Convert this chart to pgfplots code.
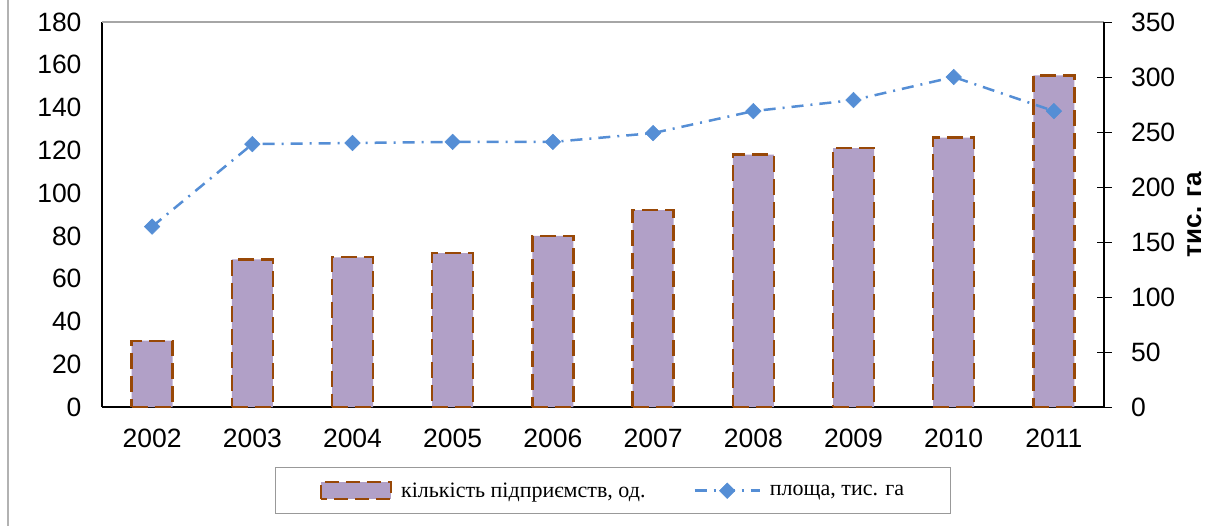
\documentclass[border=0pt]{standalone}
\usepackage{fontspec}
\setmainfont{Liberation Sans}
\newfontfamily\tnr{Liberation Serif}
\usepackage{pgfplots}
\usepackage{pgfplotstable}
\pgfplotsset{compat=1.18}
\definecolor{barfill}{RGB}{177,160,199}
\definecolor{baredge}{RGB}{152,72,7}
\definecolor{linecol}{RGB}{85,142,213}
\pgfplotsset{lineleg/.style={legend image code/.code={\draw[mark repeat=2,mark phase=2,##1] plot coordinates {(0bp,0bp) (32.5bp,0bp) (65bp,0bp)};}}}

\pgfplotstableread{
x n area
0 31 164
1 69 239
2 70 240
3 72 241
4 80 241
5 92 249
6 118 269
7 121 279
8 126 300
9 155 269
}\data

\begin{document}
\begin{tikzpicture}
\begin{axis}[
 width=1002bp, height=385bp, scale only axis,
 xmin=-0.5, xmax=9.5, ymin=0, ymax=180,
 axis x line*=bottom, axis y line*=left,
 axis line style={black, line width=1.2bp},
 xtick={0,1,2,3,4,5,6,7,8,9},
 xticklabels={2002,2003,2004,2005,2006,2007,2008,2009,2010,2011},
 ytick={0,20,...,180},
 major tick length=0pt,
 tick style={draw=none},
 tick label style={font=\fontsize{26.5bp}{31bp}\selectfont},
 /pgf/number format/assume math mode=true,
 yticklabel style={xshift=-17bp},
 xticklabel style={yshift=-18bp},
]
\addplot[ybar, bar width=41bp, bar shift=0pt, fill=barfill, draw=baredge, line width=2.3bp, dash pattern=on 16bp off 7bp] table[x=x,y=n]{\data};
\path (rel axis cs:0,0) coordinate (SW) (rel axis cs:1,1) coordinate (NE);
\end{axis}
\begin{axis}[
 width=1002bp, height=385bp, scale only axis,
 xmin=-0.5, xmax=9.5, ymin=0, ymax=350,
 axis x line*=top, axis y line*=right,
 x axis line style={gray!70, line width=1.2bp},
 y axis line style={black, line width=1.2bp},
 xtick=\empty,
 ytick={0,50,...,350},
 tick align=center, major tick length=15bp,
 ytick style={black, line width=1bp},
 tick label style={font=\fontsize{26.5bp}{31bp}\selectfont},
 /pgf/number format/assume math mode=true,
 yticklabel style={xshift=16bp},
 ylabel={тис. га},
 ylabel style={font=\fontsize{26bp}{31bp}\selectfont\bfseries, yshift=-5bp},
 legend style={at={(axis description cs:0.51,-0.156)}, anchor=north,
   legend columns=2, draw=gray!80, line width=1bp,
   font=\tnr\fontsize{22bp}{26bp}\selectfont,
   inner xsep=44bp, inner ysep=13bp,
   /tikz/every odd column/.append style={column sep=7bp},
   /tikz/every even column/.append style={column sep=46bp}},
 legend cell align=left,
]
\addlegendimage{legend image code/.code={\draw[fill=barfill, draw=baredge, line width=2.3bp, dash pattern=on 14bp off 7bp] (0bp,-8bp) rectangle (70bp,9bp);}}
\addlegendentry{кількість підприємств, од.}
\addplot[linecol, line width=2.5bp, dash pattern=on 12bp off 7bp on 2bp off 7bp,
  mark=square*, mark size=5.5bp,
  mark options={rotate=45, solid, fill=linecol, draw=linecol, line width=0.5bp},
  lineleg
  ] table[x=x,y=area]{\data};
\addlegendentry{площа, тис. га}
\end{axis}
\draw[gray!60, line width=2bp] ([xshift=-94bp,yshift=22bp]SW |- NE) -- ([xshift=-94bp,yshift=-119bp]SW);
\pgfresetboundingbox
\useasboundingbox ([xshift=-102bp,yshift=-119bp]SW) rectangle ([xshift=115bp,yshift=22bp]NE);
\end{tikzpicture}
\end{document}
